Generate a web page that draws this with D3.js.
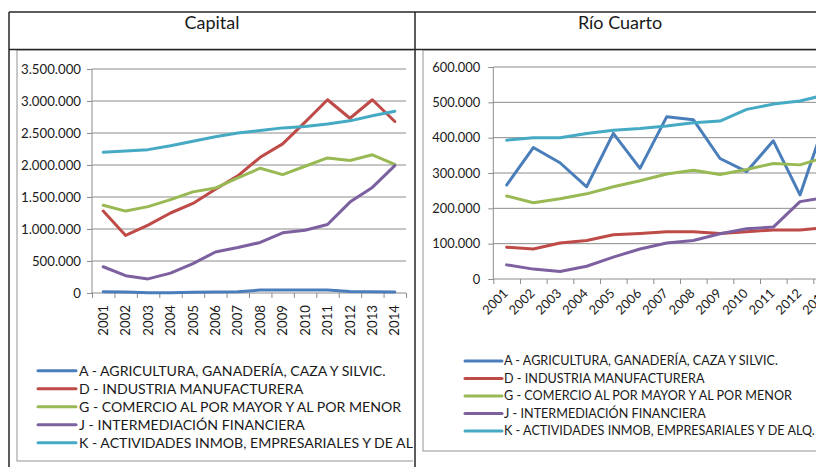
<!DOCTYPE html>
<html><head><meta charset="utf-8">
<script src="https://cdn.jsdelivr.net/npm/d3@7"></script>
<style>
body{margin:0;background:#fff}
svg{display:block}
text{font-family:Lato,"Open Sans",sans-serif;fill:#1a1a1a}
</style>
</head><body>
<svg id="c" width="816" height="467"></svg>
<script>
// ---------- DATA ----------
const years = ["2001","2002","2003","2004","2005","2006","2007","2008","2009","2010","2011","2012","2013","2014"];
const seriesLabels = [
  "A - AGRICULTURA, GANADERÍA, CAZA Y SILVIC.",
  "D - INDUSTRIA MANUFACTURERA",
  "G - COMERCIO AL POR MAYOR Y AL POR MENOR",
  "J -  INTERMEDIACIÓN FINANCIERA",
  "K - ACTIVIDADES INMOB, EMPRESARIALES Y DE ALQ."
];
const panelTitles = ["Capital", "Río Cuarto"];

const capitalA = [20000,15000,5000,5000,10000,15000,20000,45000,45000,45000,45000,25000,20000,15000];
const capitalD = [1280000,900000,1060000,1250000,1400000,1620000,1830000,2120000,2330000,2670000,3020000,2730000,3020000,2680000];
const capitalG = [1370000,1280000,1350000,1460000,1580000,1640000,1800000,1950000,1850000,1980000,2110000,2070000,2160000,2010000];
const capitalJ = [410000,270000,220000,310000,460000,640000,710000,790000,940000,980000,1070000,1420000,1650000,1990000];
const capitalK = [2200000,2220000,2240000,2300000,2370000,2440000,2500000,2540000,2580000,2600000,2640000,2690000,2770000,2840000];

const rioA = [266000,372000,329000,261000,412000,313000,459000,451000,341000,304000,391000,238000,460000,400000];
const rioD = [90000,85000,102000,109000,125000,129000,134000,134000,129000,134000,139000,139000,146000,150000];
const rioG = [235000,216000,227000,241000,261000,278000,297000,308000,296000,310000,327000,323000,346000,350000];
const rioJ = [40000,28000,21000,36000,62000,85000,102000,109000,128000,142000,147000,219000,231000,240000];
const rioK = [393000,400000,400000,412000,421000,426000,433000,442000,447000,480000,495000,504000,522000,530000];

const capitalTicks = [0,500000,1000000,1500000,2000000,2500000,3000000,3500000];
const rioTicks = [0,100000,200000,300000,400000,500000,600000];

// ---------- STYLE / LAYOUT ----------
const colors = ["#4A7EBB","#BE4B48","#98B954","#7D60A0","#46AAC5"];
const locale = d3.formatLocale({decimal:",", thousands:".", grouping:[3], currency:["$",""]});
const fmt = locale.format(",.0f");
const svg = d3.select("#c");

function fitSize(str, target){
  const t = svg.append("text").attr("font-size", 100).text(str);
  const w = t.node().getComputedTextLength();
  t.remove();
  return 100 * target / w;
}

const panels = [
  {title: panelTitles[0], titleX: 212, clip:[0,413], frame:{x:17,y:50,w:420,h:411},
   x0:92, bw:22.43, yTop:69, yBot:293, ticks: capitalTicks, gridEnd:406,
   series:[capitalA,capitalD,capitalG,capitalJ,capitalK],
   yLabelTarget:["3.500.000",60], tickPad:6, rot:-90, xLabY:305,
   legend:{x1:38,x2:76,tx:79,y0:370.7,dy:18, target:307}},
  {title: panelTitles[1], titleX: 620, clip:[415,816], frame:{x:423,y:50,w:500,h:401},
   x0:493.3, bw:26.67, yTop:67, yBot:279, ticks: rioTicks, gridEnd:900,
   series:[rioA,rioD,rioG,rioJ,rioK],
   yLabelTarget:["600.000",48], tickPad:8, rot:-45, xLabY:291,
   legend:{x1:465,x2:502,tx:504,y0:361,dy:17.5, target:274}}
];

const titleSize = fitSize(panelTitles[0], 55);

// clip paths
const defs = svg.append("defs");
panels.forEach((p,i)=>{
  defs.append("clipPath").attr("id","clip"+i).append("rect")
    .attr("x",p.clip[0]).attr("y",0).attr("width",p.clip[1]-p.clip[0]).attr("height",467);
});

panels.forEach((p,i)=>{
  const g = svg.append("g").attr("clip-path",`url(#clip${i})`);
  // chart frame
  g.append("rect").attr("x",p.frame.x).attr("y",p.frame.y).attr("width",p.frame.w).attr("height",p.frame.h)
    .attr("fill","none").attr("stroke","#a6a6a6").attr("stroke-width",1.2);

  const x = d3.scaleBand().domain(years).range([p.x0, p.x0 + p.bw*years.length]);
  const y = d3.scaleLinear().domain([0, d3.max(p.ticks)]).range([p.yBot, p.yTop]);
  const xEdge = d3.scaleLinear().domain([0, years.length]).range(x.range());

  const tickSize = fitSize(p.yLabelTarget[0], p.yLabelTarget[1]);

  // gridlines
  g.append("g").selectAll("line").data(p.ticks.filter(t=>t>0)).join("line")
    .attr("x1",p.x0).attr("x2",p.gridEnd)
    .attr("y1",d=>y(d)).attr("y2",d=>y(d))
    .attr("stroke","#8c8c8c").attr("stroke-width",1);

  // y axis
  const ya = g.append("g").attr("transform",`translate(${p.x0},0)`)
    .call(d3.axisLeft(y).tickValues(p.ticks).tickSize(5).tickPadding(p.tickPad).tickFormat(fmt));
  ya.select(".domain").attr("stroke","#8c8c8c").attr("d",`M-0.0,${p.yBot}V${p.yTop}`);
  ya.selectAll(".tick line").attr("stroke","#8c8c8c");
  ya.selectAll(".tick text").attr("font-size",tickSize).attr("font-family","Lato").attr("fill","#1a1a1a");

  // x axis (ticks at category boundaries)
  const xa = g.append("g").attr("transform",`translate(0,${p.yBot})`)
    .call(d3.axisBottom(xEdge).tickValues(d3.range(0,years.length+1)).tickSize(5).tickFormat(""));
  xa.select(".domain").attr("stroke","#8c8c8c").attr("d",`M${p.x0},0H${p.x0+p.bw*years.length}`);
  xa.selectAll(".tick line").attr("stroke","#8c8c8c");

  // x labels
  g.append("g").selectAll("text").data(years).join("text")
    .attr("transform",d=> p.rot===-90
        ? `translate(${x(d)+x.bandwidth()/2},${p.xLabY}) rotate(-90)`
        : `translate(${x(d)+x.bandwidth()/2-1},${p.xLabY}) rotate(-45)`)
    .attr("text-anchor","end").attr("dy","0.35em")
    .attr("font-size",tickSize).text(d=>d);

  // lines
  const line = d3.line().x((d,j)=>x(years[j])+x.bandwidth()/2).y(d=>y(d));
  g.append("g").selectAll("path").data(p.series).join("path")
    .attr("d",line).attr("fill","none")
    .attr("stroke",(d,j)=>colors[j]).attr("stroke-width",3)
    .attr("stroke-linejoin","round").attr("stroke-linecap","round");

  // legend
  const L = p.legend;
  const legSize = fitSize(seriesLabels[0], L.target);
  const lg = g.append("g").selectAll("g").data(seriesLabels).join("g")
    .attr("transform",(d,j)=>`translate(0,${L.y0 + j*L.dy})`);
  lg.append("line").attr("x1",L.x1).attr("x2",L.x2).attr("y1",0).attr("y2",0)
    .attr("stroke",(d,j)=>colors[j]).attr("stroke-width",3).attr("stroke-linecap","round");
  lg.append("text").attr("x",L.tx).attr("dy","0.35em").attr("font-size",legSize).text(d=>d);

  // title
  svg.append("text").attr("x",p.titleX).attr("y",29).attr("text-anchor","middle")
    .attr("font-size",titleSize).text(p.title);
});

// table borders
const tb = svg.append("g").attr("stroke","#262626").attr("stroke-width",1.5);
tb.append("line").attr("x1",9).attr("x2",816).attr("y1",12).attr("y2",12);
tb.append("line").attr("x1",9).attr("x2",816).attr("y1",49.5).attr("y2",49.5);
tb.append("line").attr("x1",9).attr("x2",9).attr("y1",12).attr("y2",467);
tb.append("line").attr("x1",415).attr("x2",415).attr("y1",12).attr("y2",467);
</script>
</body></html>
